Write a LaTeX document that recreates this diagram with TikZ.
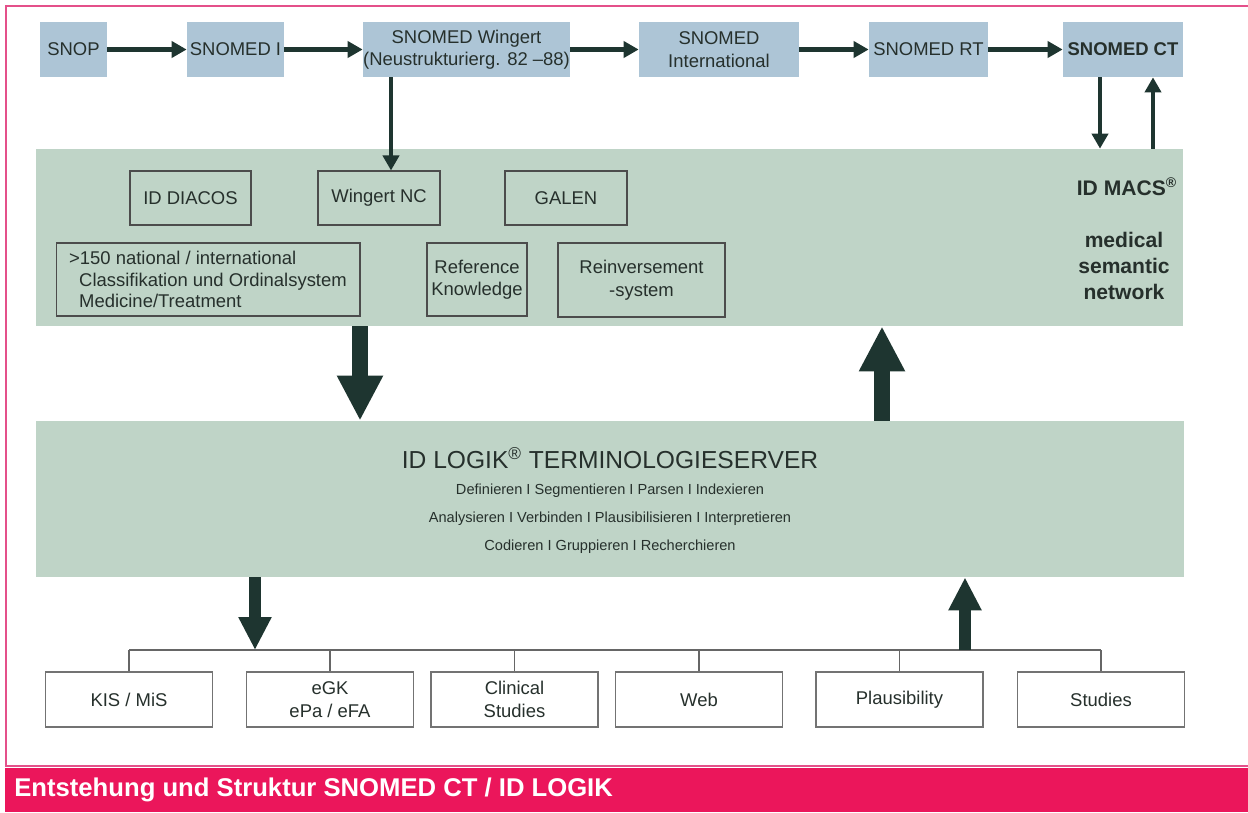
\documentclass[tikz,border=0pt]{standalone}
\usepackage{fontspec}
\setmainfont{Liberation Sans}
\usetikzlibrary{arrows.meta}
\definecolor{snoblue}{HTML}{ADC5D6}
\definecolor{panelgreen}{HTML}{BFD4C7}
\definecolor{arrowdark}{HTML}{1E3530}
\definecolor{framepink}{HTML}{E4508A}
\definecolor{barred}{HTML}{EB165B}
\definecolor{textdark}{HTML}{26302C}
\begin{document}
\begin{tikzpicture}[x=0.02cm,y=-0.02cm,
  every node/.style={text=textdark,inner sep=0pt,font=\fontsize{10.5}{12.8}\selectfont},
  topbox/.style={fill=snoblue,minimum height=1.1cm,align=center},
  innerbox/.style={draw=black!70,line width=0.6pt,align=center},
  outbox/.style={draw=black!55,line width=0.9pt,fill=white,minimum width=3.34cm,minimum height=1.1cm,align=center},
  panel/.style={fill=panelgreen},
  flow/.style={draw=arrowdark,line width=2.8pt,-{Triangle[length=0.3cm,width=0.32cm]}},
  midflow/.style={draw=arrowdark,line width=6.5pt,-{Triangle[length=0.66cm,width=0.62cm]}},
  bigflow/.style={draw=arrowdark,line width=9pt,-{Triangle[length=0.9cm,width=0.86cm]}},
  bus/.style={draw=black!60,line width=0.7pt}]
  \useasboundingbox (0,0) rectangle (1248,812);

  % frame and caption bar
  \draw[framepink,line width=1.2pt] (1248,6) -- (6,6) -- (6,766) -- (1248,766);
  \fill[barred] (5,768) rectangle (1248,812);
  \node[anchor=west,text=white,font=\bfseries\fontsize{14.6}{16}\selectfont] (caption) at (14,790)
    {Entstehung und Struktur SNOMED CT / ID LOGIK};

  % history of SNOMED
  \node[topbox,minimum width=1.34cm] (snop) at (73.5,49.5) {SNOP};
  \node[topbox,minimum width=1.94cm] (snomedi) at (235.5,49.5) {SNOMED I};
  \node[topbox,minimum width=4.14cm] (wingert) at (466.5,49.5) {SNOMED Wingert\\(Neustrukturierg. 82 --88)};
  \node[topbox,minimum width=3.2cm] (intl) at (719,49.5) {SNOMED\\International};
  \node[topbox,minimum width=2.38cm] (rt) at (928.5,49.5) {SNOMED RT};
  \node[topbox,minimum width=2.4cm,font=\bfseries\fontsize{10.5}{12.8}\selectfont] (ct) at (1123,49.5) {SNOMED CT};
  \draw[flow] (snop.east) -- (snomedi.west);
  \draw[flow] (snomedi.east) -- (wingert.west);
  \draw[flow] (wingert.east) -- (intl.west);
  \draw[flow] (intl.east) -- (rt.west);
  \draw[flow] (rt.east) -- (ct.west);

  % knowledge panel
  \node[panel,minimum width=22.94cm,minimum height=3.54cm] (kb) at (609.5,237.5) {};
  \node[innerbox,minimum width=2.42cm,minimum height=1.08cm] (diacos) at (190.5,198) {ID DIACOS};
  \node[innerbox,minimum width=2.44cm,minimum height=1.08cm] (wingertnc) at (379,198) {Wingert NC};
  \node[innerbox,minimum width=2.44cm,minimum height=1.08cm] (galen) at (566,198) {GALEN};
  \node[innerbox,minimum width=6.08cm,minimum height=1.46cm,align=left,
        font=\fontsize{10.5}{12.4}\selectfont] (classif) at (208,279.5)
    {>150 national / international\\
     \hspace*{0.2cm}Classifikation und Ordinalsystem\\
     \hspace*{0.2cm}Medicine/Treatment};
  \node[innerbox,minimum width=2cm,minimum height=1.46cm] (refknow) at (477,279.5) {Reference\\Knowledge};
  \node[innerbox,minimum width=3.34cm,minimum height=1.48cm] (reinvest) at (641.5,280) {Reinversement\\-system};
  \node[font=\bfseries\fontsize{12}{15}\selectfont] (macs) at (1127,187) {ID MACS\textsuperscript{\textregistered}};
  \node[font=\bfseries\fontsize{12}{15}\selectfont,align=center] (semnet) at (1124,266) {medical\\semantic\\network};

  \coordinate (wdrop) at (391,0);
  \coordinate (ctdown) at (1100,0);
  \coordinate (ctup) at (1153,0);
  \draw[flow] (wingert.south -| wdrop) -- (wingertnc.north -| wdrop);
  \draw[flow] (ct.south -| ctdown) -- (kb.north -| ctdown);
  \draw[flow] (kb.north -| ctup) -- (ct.south -| ctup);

  % terminology server
  \node[panel,minimum width=22.96cm,minimum height=3.12cm] (server) at (610,499) {};
  \node[font=\fontsize{14}{16}\selectfont] (servertitle) at (610,458)
    {ID LOGIK\textsuperscript{\textregistered} TERMINOLOGIESERVER};
  \node[font=\fontsize{8.3}{9}\selectfont] (tasks1) at (610,491) {Definieren I Segmentieren I Parsen I Indexieren};
  \node[font=\fontsize{8.3}{9}\selectfont] (tasks2) at (610,519) {Analysieren I Verbinden I Plausibilisieren I Interpretieren};
  \node[font=\fontsize{8.3}{9}\selectfont] (tasks3) at (610,547) {Codieren I Gruppieren I Recherchieren};

  \coordinate (kbout) at (360,0);
  \coordinate (kbin) at (882,0);
  \draw[bigflow] (kb.south -| kbout) -- (server.north -| kbout);
  \draw[bigflow] (server.north -| kbin) -- (kb.south -| kbin);

  % applications
  \node[outbox] (kis) at (129,699.5) {KIS / MiS};
  \node[outbox] (egk) at (330,699.5) {eGK\\ePa / eFA};
  \node[outbox] (clinical) at (514.5,699.5) {Clinical\\Studies};
  \node[outbox] (web) at (699,699.5) {Web};
  \node[outbox] (plaus) at (899.5,699.5) {Plausibility};
  \node[outbox] (studies) at (1101,699.5) {Studies};

  \coordinate (busl) at (129,650);
  \coordinate (busr) at (1101,650);
  \draw[bus] (busl) -- (busr);
  \foreach \app in {kis,egk,clinical,web,plaus,studies}
    \draw[bus] (\app.north) -- (\app.north |- busl);

  \coordinate (outdrop) at (255,650);
  \coordinate (inrise) at (965,650);
  \draw[midflow] (server.south -| outdrop) -- (outdrop);
  \draw[midflow] (inrise) -- (server.south -| inrise);
\end{tikzpicture}
\end{document}
